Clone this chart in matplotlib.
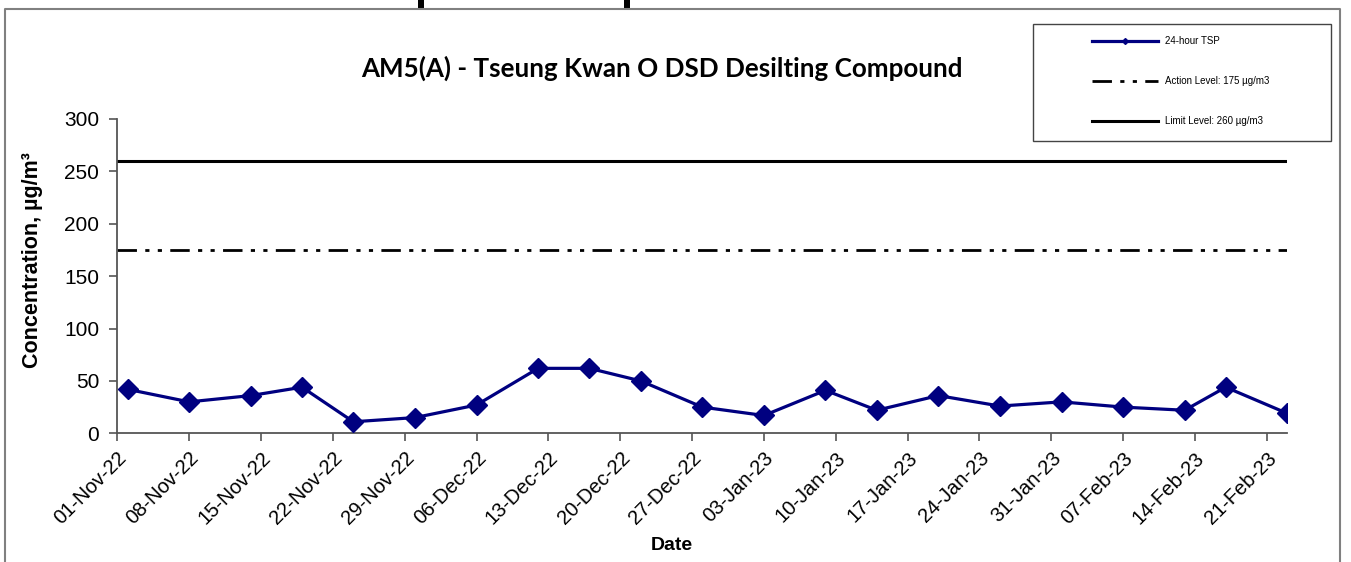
import datetime as dt
import matplotlib
matplotlib.use("Agg")
import matplotlib.pyplot as plt
import matplotlib.dates as mdates
from matplotlib.lines import Line2D
from matplotlib.patches import Rectangle

# Sampling dates and 24-hour TSP results (µg/m3)
dates = [
    "2022-11-02", "2022-11-08", "2022-11-14", "2022-11-19", "2022-11-24",
    "2022-11-30", "2022-12-06", "2022-12-12", "2022-12-17", "2022-12-22",
    "2022-12-28", "2023-01-03", "2023-01-09", "2023-01-14", "2023-01-20",
    "2023-01-26", "2023-02-01", "2023-02-07", "2023-02-13", "2023-02-17",
    "2023-02-23",
]
tsp = [42, 30, 36, 44, 11, 15, 27, 62, 62, 50,
       25, 17, 41, 22, 36, 26, 30, 25, 22, 44, 19]

action_level = 175
limit_level = 260

x_start = "2022-11-01"
x_end = "2023-02-23"
y_ticks = [0, 50, 100, 150, 200, 250, 300]

title = "AM5(A) - Tseung Kwan O DSD Desilting Compound"
series_labels = ["24-hour TSP", "Action Level: 175 µg/m3", "Limit Level: 260 µg/m3"]

W, H = 1351, 562
fig = plt.figure(figsize=(W / 100, H / 100), dpi=100)
plt.rcParams["font.family"] = ["Liberation Sans", "DejaVu Sans"]


def fx(px):
    return px / W


def fy(py):
    return 1 - py / H


ax = fig.add_axes([fx(117.3), fy(433.3), fx(1287.3) - fx(117.3), fy(119) - fy(433.3)])

d = [dt.datetime.strptime(s, "%Y-%m-%d") for s in dates]
d0 = dt.datetime.strptime(x_start, "%Y-%m-%d")
d1 = dt.datetime.strptime(x_end, "%Y-%m-%d")

navy = "#000080"
ax.plot(d, tsp, color=navy, lw=2.3, marker="D", ms=10, mec=navy, mfc=navy,
        label=series_labels[0], zorder=3)
ax.plot([d0, d1], [action_level] * 2, color="black", lw=2.0,
        linestyle=(0, (7, 3, 1.5, 3, 1.5, 3)), label=series_labels[1])
ax.plot([d0, d1], [limit_level] * 2, color="black", lw=2.2,
        label=series_labels[2])

ax.set_xlim(d0, d1)
ax.set_ylim(0, 300)
ax.set_yticks(y_ticks)
ticks = []
t = d0
while t <= d1:
    ticks.append(t)
    t += dt.timedelta(days=7)
ax.set_xticks(ticks)
ax.xaxis.set_major_formatter(mdates.DateFormatter("%d-%b-%y"))

for s in ["top", "right"]:
    ax.spines[s].set_visible(False)
for s in ["left", "bottom"]:
    ax.spines[s].set_color("#555555")
    ax.spines[s].set_linewidth(1.3)
ax.tick_params(axis="both", direction="out", length=6, width=1.2,
               color="#555555")
ax.tick_params(axis="y", pad=7, labelsize=15)
ax.tick_params(axis="x", pad=5, labelsize=14.5)
plt.setp(ax.get_xticklabels(), rotation=45, ha="right", rotation_mode="anchor")

fig.text(fx(33), fy(260), "Concentration, µg/m³", fontsize=15.5,
         fontweight="bold", rotation=90, ha="center", va="center")
fig.text(fx(672), fy(545), "Date", fontsize=14, fontweight="bold",
         ha="center", va="center")
fig.text(fx(662), fy(68), title, fontsize=18.7, fontweight="bold",
         family=["Lato", "DejaVu Sans"], ha="center", va="center")

# legend with its own frame box
leg = fig.legend(loc="upper left", bbox_to_anchor=(fx(1092), fy(36)),
                 frameon=False, fontsize=7, handlelength=6.8,
                 handletextpad=0.7, labelspacing=3.1, borderpad=0,
                 borderaxespad=0)
for h in leg.legend_handles:
    if h.get_color() == navy:
        h.set_markersize(3)
fig.add_artist(Rectangle((fx(1033), fy(141)), fx(1331) - fx(1033), fy(24) - fy(141),
                         transform=fig.transFigure, fill=False,
                         edgecolor="#444444", lw=1.0))

# outer frame and top edge marks
frame_c = "#808080"
fig.add_artist(Line2D([fx(5), fx(5), fx(1340), fx(1340)],
                      [0, fy(9), fy(9), 0], transform=fig.transFigure,
                      color=frame_c, lw=1.5))
for x0 in (418, 624):
    fig.add_artist(Rectangle((fx(x0), fy(9)), fx(6), 1 - fy(9),
                             transform=fig.transFigure, color="black", lw=0))

fig.savefig("out.png", dpi=100)
